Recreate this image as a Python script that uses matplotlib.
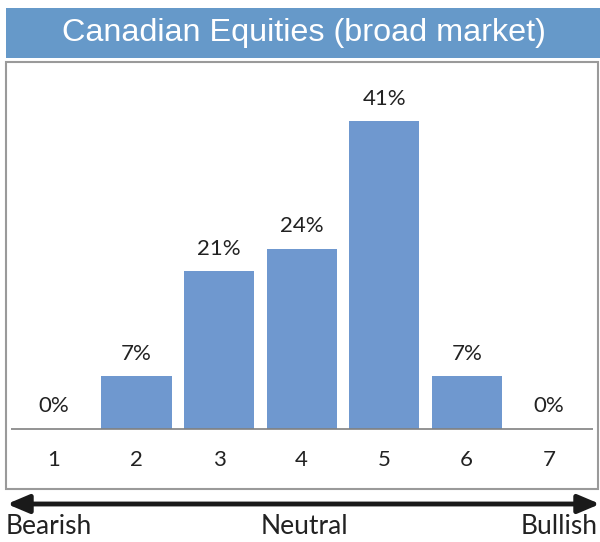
import numpy as np
import matplotlib
matplotlib.use("Agg")
import matplotlib.pyplot as plt
from matplotlib.patches import Rectangle, FancyArrowPatch

# survey data
categories = [1, 2, 3, 4, 5, 6, 7]
shares = [0, 7, 21, 24, 41, 7, 0]
title = "Canadian Equities (broad market)"
scale_labels = ["Bearish", "Neutral", "Bullish"]

W, H = 600, 542
fig = plt.figure(figsize=(W / 100, H / 100), dpi=100)

def fx(px):
    return px / W

def fy(py):
    return 1 - py / H

# title bar
fig.patches.append(Rectangle((fx(6), fy(58)), fx(600) - fx(6), fy(8) - fy(58),
                             transform=fig.transFigure, facecolor="#6699c9",
                             edgecolor="none", zorder=0))
fig.text(fx(304), fy(33), title, color="white", fontsize=23.3,
         family="Liberation Sans", ha="center", va="center")

# plot box
fig.patches.append(Rectangle((fx(6), fy(489)), fx(598) - fx(6), fy(62) - fy(489),
                             transform=fig.transFigure, facecolor="white",
                             edgecolor="#9a9a9a", lw=1.5, zorder=0))

ax = fig.add_axes([fx(11), fy(489), fx(593) - fx(11), fy(62) - fy(489)])
ax.set_zorder(2)
ax.patch.set_alpha(0)
ax.bar(categories, shares, width=0.85, color="#6f98cf", zorder=2)
ax.axhline(0, color="#808080", lw=1.2, zorder=3)
ax.set_xlim(0.48, 7.53)
ax.set_ylim(-8.0, 48.9)
ax.axis("off")

for c, s in zip(categories, shares):
    ax.text(c, s + 3.0, f"{s}%", ha="center", va="center", fontsize=16,
            family="Lato", color="#222222")
    ax.text(c, -4.1, str(c), ha="center", va="center", fontsize=16,
            family="Lato", color="#222222")

# bearish-bullish arrow
fig.add_artist(FancyArrowPatch(
    (fx(7), fy(504)), (fx(600), fy(504)), transform=fig.transFigure,
    arrowstyle="<|-|>,head_length=13,head_width=5.5", lw=3.5, color="#1a1a1a",
    shrinkA=0, shrinkB=0, mutation_scale=1))

fig.text(fx(6), fy(527), scale_labels[0], ha="left", va="center", fontsize=19,
         family="Lato", color="#222222")
fig.text(fx(304), fy(527), scale_labels[1], ha="center", va="center", fontsize=19,
         family="Lato", color="#222222")
fig.text(fx(598), fy(527), scale_labels[2], ha="right", va="center", fontsize=19,
         family="Lato", color="#222222")

fig.savefig("out.png", dpi=100)
